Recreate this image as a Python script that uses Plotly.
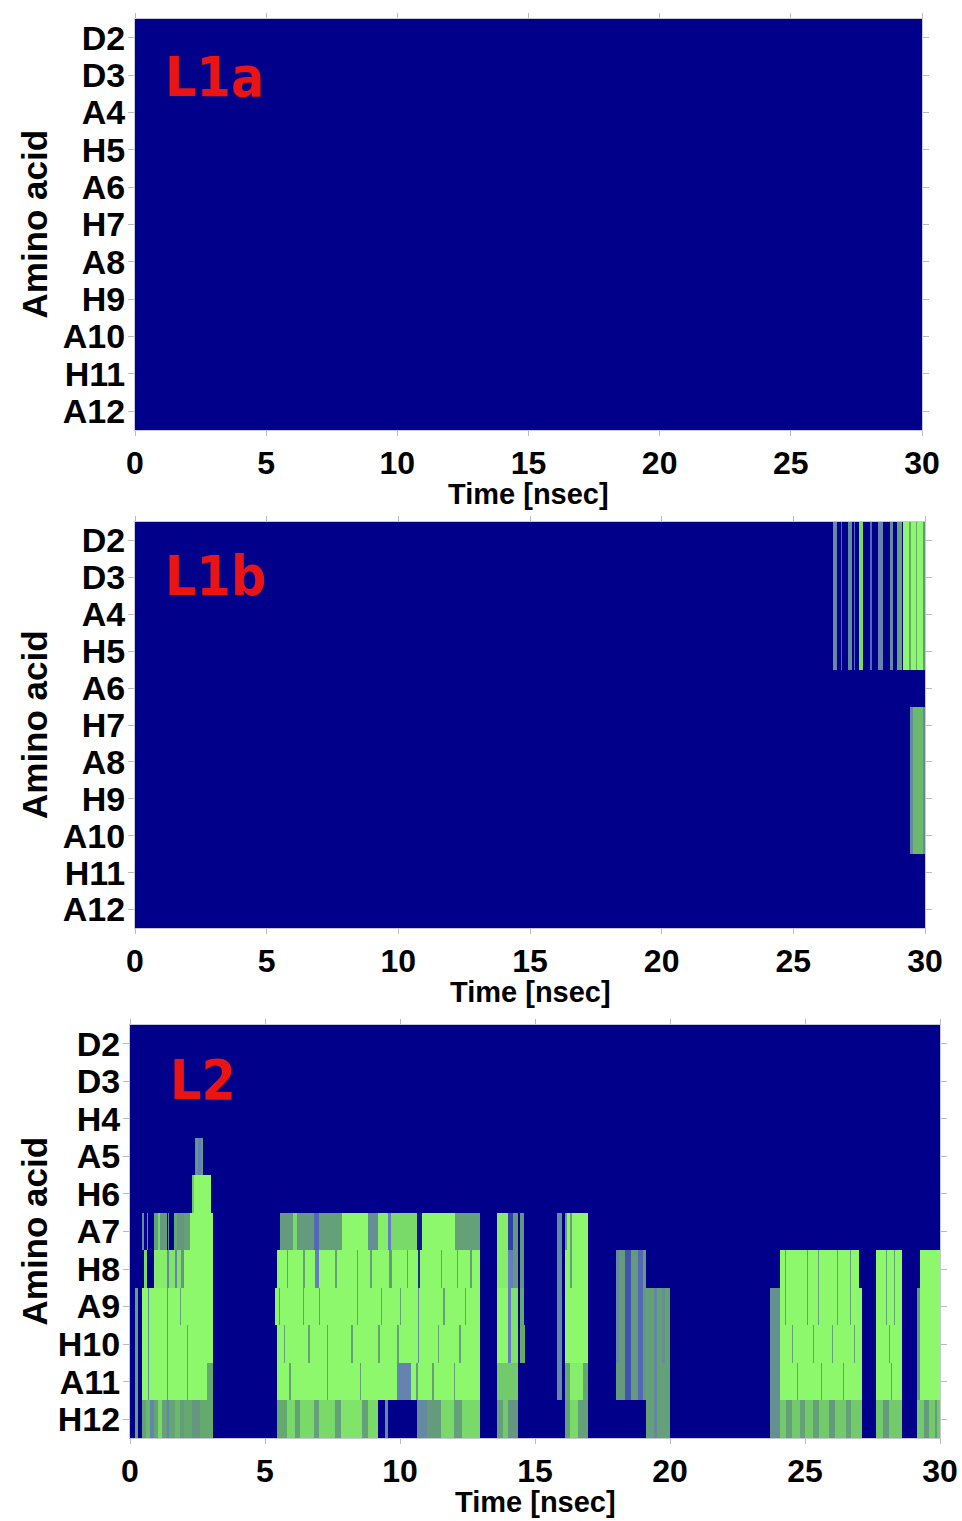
import plotly.graph_objects as go

# ---------------- data ----------------
ROWS_L1A = ["D2", "D3", "A4", "H5", "A6", "H7", "A8", "H9", "A10", "H11", "A12"]
ROWS_L1B = ["D2", "D3", "A4", "H5", "A6", "H7", "A8", "H9", "A10", "H11", "A12"]
ROWS_L2 = ["D2", "D3", "H4", "A5", "H6", "A7", "H8", "A9", "H10", "A11", "H12"]
TIME_TICKS = [0, 5, 10, 15, 20, 25, 30]
T_END = 30

# segments: (t_start [ns], t_end [ns], contact level 0..1); later entries overwrite earlier ones
L1B_UPPER = [(26.52, 26.65, 0.4), (26.80, 26.86, 0.25), (27.09, 27.22, 0.4), (27.30, 27.35, 0.25),
             (27.51, 27.64, 0.85), (27.91, 27.97, 0.25), (28.23, 28.42, 0.35), (28.67, 28.80, 0.4),
             (28.93, 29.12, 0.6), (29.18, 29.94, 1.0), (29.40, 29.45, 0.7), (29.65, 29.70, 0.7),
             (29.94, 30.0, 0.5)]
L1B_LOWER = [(29.43, 29.56, 0.4), (29.56, 29.94, 0.75), (29.94, 30.0, 0.4)]
L1B_UPPER_ROWS = ["D2", "D3", "A4", "H5"]
L1B_LOWER_ROWS = ["H7", "A8", "H9", "A10"]

L2_A5 = [(2.40, 2.72, 0.3), (2.43, 2.50, 0.55), (2.62, 2.70, 0.55)]
L2_H6 = [(2.28, 3.00, 1.0), (2.28, 2.36, 0.8)]
L2_A7 = [(0.46, 0.53, 0.4), (0.62, 0.68, 0.4), (0.90, 1.05, 0.6), (1.05, 1.12, 0.85), (1.12, 1.36, 0.55),
         (1.40, 1.46, 0.4), (1.62, 1.75, 0.7), (1.75, 2.00, 0.5), (2.00, 2.22, 0.6), (2.22, 3.08, 1.0),
         (5.56, 6.05, 0.55), (6.05, 6.20, 0.85), (6.20, 6.80, 0.55), (6.80, 7.00, 0.25), (7.00, 7.84, 0.6),
         (7.84, 8.83, 1.0), (8.83, 9.20, 0.45), (9.20, 9.55, 0.95), (9.55, 9.65, 0.3), (9.65, 10.62, 0.85),
         (10.62, 10.80, 0.05), (10.80, 12.04, 1.0), (12.04, 12.96, 0.6),
         (13.58, 14.00, 0.95), (14.00, 14.20, 0.15), (14.20, 14.38, 0.55), (14.45, 14.60, 0.5),
         (15.80, 15.99, 0.4), (16.11, 16.98, 1.0), (16.11, 16.20, 0.6), (16.30, 16.36, 0.6)]
L2_H8 = [(0.50, 0.62, 0.85), (0.90, 1.36, 0.95), (1.36, 1.45, 0.4), (1.45, 1.67, 0.9), (1.67, 1.73, 0.35),
         (1.73, 1.90, 0.9), (1.90, 2.00, 0.5), (2.00, 3.08, 1.0),
         (5.45, 12.96, 1.0), (5.80, 5.85, 0.6), (6.42, 6.48, 0.6), (6.85, 7.00, 0.3), (7.60, 7.65, 0.6),
         (8.40, 8.45, 0.6), (8.90, 8.95, 0.6), (9.60, 9.70, 0.55), (10.25, 10.30, 0.6), (10.65, 10.75, 0.1),
         (11.50, 11.55, 0.6), (12.10, 12.15, 0.6), (12.60, 12.65, 0.6),
         (13.58, 14.00, 0.95), (14.00, 14.20, 0.3), (14.20, 14.38, 0.55), (14.45, 14.60, 0.5),
         (15.80, 15.99, 0.4), (16.11, 16.98, 1.0), (16.30, 16.36, 0.6),
         (18.00, 19.10, 0.55), (18.00, 18.10, 0.4), (18.35, 18.55, 0.2), (18.80, 19.00, 0.25),
         (24.07, 27.01, 1.0), (24.26, 24.30, 0.6), (25.06, 25.10, 0.6), (25.49, 25.53, 0.6),
         (26.17, 26.21, 0.6), (26.67, 26.71, 0.6),
         (27.63, 28.58, 1.0), (28.00, 28.04, 0.6), (28.30, 28.34, 0.6),
         (29.26, 30.00, 1.0)]
L2_A9 = [(0.19, 0.30, 0.6), (0.43, 3.08, 1.0), (0.66, 0.72, 0.4), (1.36, 1.40, 0.5), (1.85, 1.90, 0.6),
         (5.37, 12.96, 1.0), (5.50, 5.55, 0.6), (6.42, 6.46, 0.6), (7.00, 7.05, 0.6), (8.40, 8.44, 0.6),
         (9.30, 9.35, 0.6), (10.00, 10.05, 0.6), (10.65, 10.72, 0.4), (11.60, 11.65, 0.6), (12.40, 12.45, 0.6),
         (13.58, 14.00, 1.0), (14.00, 14.12, 0.3), (14.12, 14.38, 0.9), (14.45, 14.60, 0.7),
         (15.80, 15.99, 0.4), (16.11, 16.98, 1.0),
         (18.00, 19.10, 0.55), (18.00, 18.10, 0.4), (18.35, 18.55, 0.2), (18.80, 19.00, 0.25),
         (19.10, 20.00, 0.6), (19.40, 19.50, 0.4), (19.70, 19.80, 0.45),
         (23.70, 24.07, 0.45), (24.07, 27.10, 1.0), (24.26, 24.30, 0.6), (25.06, 25.10, 0.6),
         (25.49, 25.53, 0.6), (26.17, 26.21, 0.6), (26.67, 26.71, 0.6),
         (27.63, 28.58, 1.0), (28.00, 28.04, 0.6), (28.30, 28.34, 0.6),
         (29.14, 29.26, 0.5), (29.26, 30.00, 1.0)]
L2_H10 = [(0.19, 0.30, 0.6), (0.43, 3.08, 1.0), (0.66, 0.72, 0.4), (1.36, 1.40, 0.5), (2.10, 2.14, 0.6),
          (5.45, 12.96, 1.0), (5.70, 5.75, 0.6), (6.60, 6.65, 0.6), (7.30, 7.35, 0.6), (8.20, 8.25, 0.6),
          (9.20, 9.25, 0.6), (9.90, 9.95, 0.6), (10.65, 10.72, 0.4), (11.40, 11.45, 0.6), (12.20, 12.25, 0.6),
          (13.58, 14.00, 1.0), (14.00, 14.12, 0.3), (14.12, 14.38, 0.9), (14.45, 14.63, 0.7),
          (15.80, 15.99, 0.4), (16.11, 16.98, 1.0),
          (18.00, 19.10, 0.55), (18.00, 18.10, 0.4), (18.35, 18.55, 0.2), (18.80, 19.00, 0.25),
          (19.10, 20.00, 0.6), (19.40, 19.50, 0.4), (19.70, 19.80, 0.45),
          (23.70, 24.07, 0.45), (24.07, 27.10, 1.0), (24.50, 24.54, 0.6), (25.30, 25.34, 0.6),
          (26.00, 26.04, 0.6), (26.80, 26.84, 0.6),
          (27.63, 28.58, 1.0), (28.10, 28.14, 0.6),
          (29.14, 29.26, 0.5), (29.26, 30.00, 1.0)]
L2_A11 = [(0.19, 0.30, 0.6), (0.43, 2.84, 1.0), (2.84, 3.08, 0.7), (0.66, 0.72, 0.4), (1.36, 1.40, 0.5),
          (2.10, 2.14, 0.6),
          (5.45, 12.96, 1.0), (9.90, 10.40, 0.35), (5.90, 5.95, 0.6), (7.30, 7.35, 0.6), (8.50, 8.55, 0.6),
          (10.60, 10.65, 0.6), (11.20, 11.25, 0.6), (12.00, 12.05, 0.6),
          (13.58, 14.38, 0.8),
          (15.80, 15.99, 0.4), (16.11, 16.30, 0.7), (16.30, 16.79, 0.95), (16.79, 16.98, 0.7),
          (18.00, 19.10, 0.55), (18.35, 18.55, 0.2), (18.80, 19.00, 0.25),
          (19.10, 20.00, 0.6), (19.40, 19.50, 0.4),
          (23.70, 24.07, 0.45), (24.07, 27.10, 1.0), (24.70, 24.74, 0.6), (25.60, 25.64, 0.6),
          (26.40, 26.44, 0.6),
          (27.63, 28.58, 1.0), (28.20, 28.24, 0.6),
          (29.14, 29.26, 0.5), (29.26, 30.00, 1.0)]
L2_H12 = [(0.19, 0.30, 0.6), (0.43, 0.60, 0.6), (0.60, 0.75, 0.75), (0.75, 0.90, 0.35), (0.90, 1.05, 0.65),
          (1.05, 1.20, 0.85), (1.20, 1.36, 0.6), (1.36, 1.45, 0.35), (1.45, 1.67, 0.65), (1.67, 1.85, 0.75),
          (1.85, 2.00, 0.55), (2.00, 2.28, 0.7), (2.28, 2.60, 0.5), (2.60, 3.08, 0.7),
          (5.45, 5.80, 0.7), (5.80, 6.10, 0.85), (6.10, 6.30, 0.6), (6.30, 6.80, 0.85), (6.80, 7.00, 0.6),
          (7.00, 7.60, 0.85), (7.60, 7.80, 0.6), (7.80, 8.60, 0.9), (8.60, 8.80, 0.6), (8.80, 9.20, 0.85),
          (9.44, 9.56, 0.4), (10.62, 11.00, 0.4), (11.00, 11.50, 0.55), (11.50, 12.00, 0.85),
          (12.00, 12.30, 0.6), (12.30, 12.96, 0.85),
          (13.58, 13.80, 0.6), (13.80, 14.00, 0.8), (14.00, 14.38, 0.5),
          (16.11, 16.30, 0.6), (16.30, 16.60, 0.85), (16.60, 16.98, 0.6),
          (19.10, 20.00, 0.6), (19.40, 19.50, 0.4),
          (23.70, 24.07, 0.45), (24.07, 27.10, 0.8), (24.30, 24.50, 0.6), (24.80, 25.00, 0.6),
          (25.30, 25.50, 0.6), (25.90, 26.10, 0.55), (26.50, 26.70, 0.6),
          (27.63, 28.58, 0.8), (27.90, 28.10, 0.55),
          (29.14, 30.00, 0.8), (29.40, 29.60, 0.55), (29.80, 29.90, 0.55)]

L2_SEGMENTS = {"A5": L2_A5, "H6": L2_H6, "A7": L2_A7, "H8": L2_H8, "A9": L2_A9,
               "H10": L2_H10, "A11": L2_A11, "H12": L2_H12}
L1B_SEGMENTS = {r: L1B_UPPER for r in L1B_UPPER_ROWS}
L1B_SEGMENTS.update({r: L1B_LOWER for r in L1B_LOWER_ROWS})


def build(rows, segs):
    bps = {0.0, float(T_END)}
    for lst in segs.values():
        for a, b, _ in lst:
            bps.add(a)
            bps.add(b)
    edges = sorted(bps)
    mids = [(edges[i] + edges[i + 1]) / 2 for i in range(len(edges) - 1)]
    z = []
    for r in rows:
        row = []
        for m in mids:
            v = 0.0
            for a, b, lvl in segs.get(r, []):
                if a <= m < b:
                    v = lvl
            row.append(v)
        z.append(row)
    return edges, z


# ---------------- figure ----------------
W, H = 962, 1521
COLORSCALE = [[0.0, "rgb(0,0,139)"], [0.3, "rgb(100,125,190)"], [0.5, "rgb(100,150,130)"],
              [0.7, "rgb(100,170,110)"], [0.85, "rgb(122,218,105)"], [1.0, "rgb(142,248,108)"]]

panels = [
    dict(rows=ROWS_L1A, segs={}, xd=(135, 922), yd=(19, 430), label="L1a", lx=163, ly=77),
    dict(rows=ROWS_L1B, segs=L1B_SEGMENTS, xd=(135, 925), yd=(522, 928), label="L1b", lx=163, ly=576),
    dict(rows=ROWS_L2, segs=L2_SEGMENTS, xd=(130, 940), yd=(1025, 1438), label="L2", lx=168, ly=1080),
]

fig = go.Figure()
annotations = []
bold = dict(family="Liberation Sans, Arial, sans-serif", color="black", weight="bold")

for i, p in enumerate(panels):
    n = "" if i == 0 else str(i + 1)
    edges, z = build(p["rows"], p["segs"])
    fig.add_trace(go.Heatmap(x=edges, y=p["rows"], z=z, zmin=0, zmax=1, colorscale=COLORSCALE,
                             showscale=False, xaxis="x" + n, yaxis="y" + n, hoverinfo="skip"))
    x0, x1 = p["xd"][0] / W, p["xd"][1] / W
    y0, y1 = 1 - p["yd"][1] / H, 1 - p["yd"][0] / H
    fig.update_layout(**{
        "xaxis" + n: dict(domain=[x0, x1], anchor="y" + n, range=[0, T_END], tickmode="array",
                          tickvals=TIME_TICKS, ticks="outside", ticklen=5, tickcolor="#bbbbbb",
                          showline=True, linecolor="#c8c8d8", linewidth=1, mirror="ticks",
                          showgrid=False, zeroline=False, automargin=False,
                          tickfont=dict(size=32, **bold), ticklabelstandoff=0),
        "yaxis" + n: dict(domain=[y0, y1], anchor="x" + n, autorange="reversed", type="category",
                          categoryarray=p["rows"], tickmode="array", tickvals=p["rows"],
                          ticktext=p["rows"], ticks="outside", ticklen=6, tickcolor="#bbbbbb",
                          showline=True, linecolor="#c8c8d8", linewidth=1, mirror="ticks",
                          showgrid=False, zeroline=False, automargin=False,
                          tickfont=dict(size=34, **bold), ticklabelstandoff=-4),
    })
    cx = (p["xd"][0] + p["xd"][1]) / 2 / W
    annotations.append(dict(text="Time [nsec]", x=cx, y=1 - (p["yd"][1] + 64) / H, xref="paper",
                            yref="paper", xanchor="center", yanchor="middle", showarrow=False,
                            font=dict(size=29, **bold)))
    cy = 1 - ((p["yd"][0] + p["yd"][1]) / 2) / H
    annotations.append(dict(text="Amino acid", x=34 / W, y=cy, xref="paper", yref="paper",
                            xanchor="center", yanchor="middle", textangle=-90, showarrow=False,
                            font=dict(size=35, **bold)))
    annotations.append(dict(text=p["label"], x=p["lx"] / W, y=1 - p["ly"] / H, xref="paper",
                            yref="paper", xanchor="left", yanchor="middle", showarrow=False,
                            font=dict(size=55, family="DejaVu Sans Condensed, DejaVu Sans, sans-serif",
                                      color="rgb(235,20,20)", weight="bold")))

fig.update_layout(width=W, height=H, margin=dict(l=0, r=0, t=0, b=0, autoexpand=False),
                  paper_bgcolor="white", plot_bgcolor="white", annotations=annotations,
                  showlegend=False)

fig.write_html("out.html")
